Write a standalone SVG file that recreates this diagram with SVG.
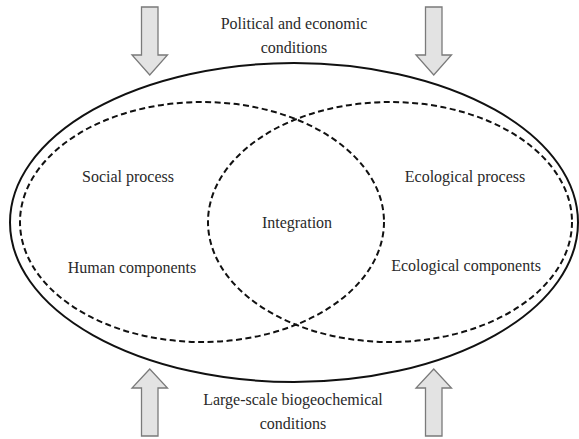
<svg xmlns="http://www.w3.org/2000/svg" width="579" height="439" viewBox="0 0 579 439">
<style>
.t{font-family:"Liberation Serif","Times New Roman",serif;font-size:16px;fill:#2a2a2a;text-anchor:middle}
.arr{fill:#e3e3e3;stroke:#7a7a7a;stroke-width:1.3;stroke-linejoin:miter}
.dash{fill:none;stroke:#111;stroke-width:2;stroke-dasharray:6,3.5}
</style>
<rect width="579" height="439" fill="#fff"/>
<g id="system">
<ellipse cx="294" cy="222.5" rx="284" ry="159.5" fill="none" stroke="#111" stroke-width="2"/>
</g>
<g id="social">
<ellipse cx="202" cy="222" rx="182" ry="120" class="dash"/>
<text class="t" x="128" y="182">Social process</text>
<text class="t" x="132" y="273">Human components</text>
</g>
<g id="ecological">
<ellipse cx="390" cy="222" rx="182" ry="120" class="dash"/>
<text class="t" x="465" y="182">Ecological process</text>
<text class="t" x="466" y="271">Ecological components</text>
</g>
<g id="integration">
<text class="t" x="297" y="228">Integration</text>
</g>
<g id="political">
<text class="t" x="294" y="29">Political and economic</text>
<text class="t" x="294" y="53">conditions</text>
</g>
<g id="biogeochemical">
<text class="t" x="293" y="405">Large-scale biogeochemical</text>
<text class="t" x="293" y="429">conditions</text>
</g>
<g id="connectors">
<path class="arr" d="M141.5,7 H158 V55 H167.5 L149.75,75 L132,55 H141.5 Z"/>
<path class="arr" d="M425.5,7 H442 V55 H451.5 L433.75,75 L416,55 H425.5 Z"/>
<path class="arr" d="M141.5,436 H158 V388 H167.5 L149.75,369 L132,388 H141.5 Z"/>
<path class="arr" d="M425.5,436 H442 V388 H451.5 L433.75,369 L416,388 H425.5 Z"/>
</g>
</svg>
